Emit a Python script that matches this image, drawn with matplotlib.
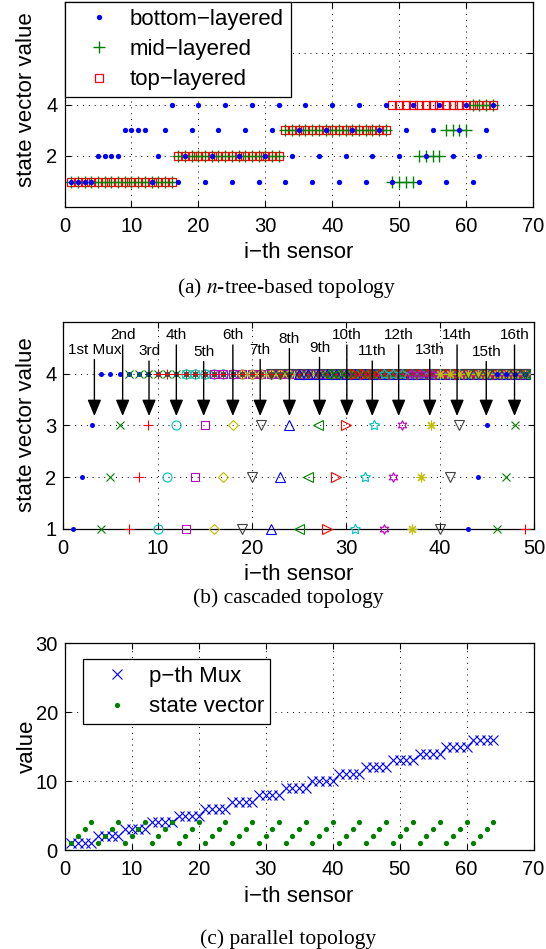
import matplotlib
matplotlib.use('Agg')
import matplotlib.pyplot as plt
from matplotlib.patches import ArrowStyle

plt.rcParams['font.family'] = ['Liberation Sans', 'DejaVu Sans']
plt.rcParams['mathtext.fontset'] = 'stix'

W, H = 546, 949

# ---------------- data ----------------
# (a) n-tree-based topology
sensors_a = list(range(1, 65))
bottom_layered = [1, 1, 1, 1, 2, 2, 2, 2, 3, 3, 3, 3,
                  1, 2, 3, 4, 1, 2, 3, 4, 1, 2, 3, 4, 1, 2, 3, 4,
                  1, 2, 3, 4, 1, 2, 3, 4, 1, 2, 3, 4, 1, 2, 3, 4,
                  1, 2, 3, 4, 1, 2, 3, 4, 1, 2, 3, 4, 1, 2, 3, 4, 1, 2, 3, 4]
mid_layered = ([1] * 16 + [2] * 16 + [3] * 16 +
               [1, 1, 1, 1, 2, 2, 2, 2, 3, 3, 3, 3, 4, 4, 4, 4])
top_layered = [1] * 16 + [2] * 16 + [3] * 16 + [4] * 16

# (b) cascaded topology
cascade_sensor_count = 49
mux_first_sensor = [1, 4, 7, 10, 13, 16, 19, 22, 25, 28, 31, 34, 37, 40, 43, 46, 49]
mux_own_states = [1, 2, 3]
mux_passed_state = 4
mux_labels = ['1st Mux', '2nd', '3rd', '4th', '5th', '6th', '7th', '8th',
              '9th', '10th', '11th', '12th', '13th', '14th', '15th', '16th']
mux_arrow_x = [3.3, 6.3, 9.1, 12.0, 14.9, 18.0, 20.9, 24.0,
               27.2, 30.1, 32.8, 35.6, 38.9, 41.8, 44.9, 47.9]
mux_label_y = [4.46, 4.74, 4.43, 4.74, 4.42, 4.74, 4.46, 4.67,
               4.50, 4.74, 4.43, 4.74, 4.46, 4.74, 4.42, 4.74]
mux_arrow_tip_y = 3.18

# (c) parallel topology
sensors_c = list(range(1, 65))
p_th_mux = [1, 1, 1, 1, 2, 2, 2, 2, 3, 3, 3, 3, 4, 4, 4, 4,
            5, 5, 5, 5, 6, 6, 6, 6, 7, 7, 7, 7, 8, 8, 8, 8,
            9, 9, 9, 9, 10, 10, 10, 10, 11, 11, 11, 11, 12, 12, 12, 12,
            13, 13, 13, 13, 14, 14, 14, 14, 15, 15, 15, 15, 16, 16, 16, 16]
state_vector_c = [1, 2, 3, 4] * 16

# ---------------- styles ----------------
BLUE = '#0000ff'
GREEN = '#008000'
RED = '#ff0000'
CYAN = '#00bfbf'
MAG = '#bf00bf'
YEL = '#bfbf00'
GRAY = '#404040'

# (marker, colour, size, filled)
mux_styles = [
    ('o', BLUE, 3.6, True), ('x', GREEN, 6, False), ('+', RED, 7, False),
    ('o', CYAN, 6.5, False), ('s', MAG, 6, False), ('D', YEL, 5.5, False),
    ('v', GRAY, 6.5, False), ('^', BLUE, 6.5, False), ('<', GREEN, 6.5, False),
    ('>', RED, 6.5, False), ((5, 1, 0), CYAN, 7.5, False), ((6, 1, 0), MAG, 7, False),
    ((8, 2, 0), YEL, 7, False), ('v', GRAY, 6.5, False), ('o', BLUE, 3.6, True),
    ('x', GREEN, 6, False), ('+', RED, 7, False),
]

TICK_FS = 14.5
LABEL_FS = 16
CAP_FS = 15.5
SERIF = ['Liberation Serif', 'DejaVu Serif']


def fx(px):
    return px / W


def fy(py):
    return 1 - py / H


def make_axes(left, right, top, bottom):
    return fig.add_axes([fx(left), fy(bottom), (right - left) / W, (bottom - top) / H])


def style_axes(ax):
    ax.grid(True, color='k', linestyle=(0, (1, 5)), linewidth=0.7)
    ax.set_axisbelow(True)
    ax.tick_params(direction='in', top=True, right=True, length=4, width=0.8,
                   labelsize=TICK_FS)
    ax.tick_params(axis='x', pad=7)
    ax.tick_params(axis='y', pad=5)
    for s in ax.spines.values():
        s.set_linewidth(0.9)


def boxed_legend(ax, handles, labels, anchor):
    leg = ax.legend(handles, labels, loc='upper left', bbox_to_anchor=anchor,
                    borderaxespad=0, fontsize=LABEL_FS, fancybox=False, framealpha=1,
                    edgecolor='k', borderpad=0.3, labelspacing=0.42, handlelength=2.5,
                    handletextpad=0.15, numpoints=1)
    leg.get_frame().set_linewidth(0.9)
    return leg


fig = plt.figure(figsize=(W / 100, H / 100), dpi=100)

# ---------------- (a) ----------------
ax1 = make_axes(64.5, 533, 2, 207.3)
style_axes(ax1)
h_top, = ax1.plot(sensors_a, top_layered, ls='none', marker='s', ms=6, mfc='none',
                  mec=RED, mew=0.9)
h_mid, = ax1.plot(sensors_a, mid_layered, ls='none', marker='+', ms=8, mec=GREEN,
                  mew=1.0)
h_bot, = ax1.plot(sensors_a, bottom_layered, ls='none', marker='o', ms=3.8, mfc=BLUE,
                  mec='none')
ax1.set_xlim(0, 70)
ax1.set_ylim(0, 8)
ax1.set_xticks(range(0, 71, 10))
ax1.set_yticks([2, 4, 6])
ax1.set_yticklabels(['2', '4', ''])
boxed_legend(ax1, [h_bot, h_mid, h_top],
             ['bottom\u2212layered', 'mid\u2212layered', 'top\u2212layered'], (0, 1))
fig.text(fx(299), fy(252), 'i\u2212th sensor', ha='center', va='center', fontsize=LABEL_FS)
fig.text(fx(27), fy(100), 'state vector value', rotation=90, ha='center', va='center',
         fontsize=LABEL_FS)
fig.text(fx(287), fy(288), '(a) $\\mathit{n}$-tree-based topology', ha='center',
         va='center', fontsize=CAP_FS, family=SERIF)

# ---------------- (b) ----------------
ax2 = make_axes(63.3, 534.3, 321.7, 529)
style_axes(ax2)
for k, first in enumerate(mux_first_sensor):
    xs, ys = [], []
    for j, st in enumerate(mux_own_states):
        s = first + j
        if s <= cascade_sensor_count:
            xs.append(s)
            ys.append(st)
    for s in range(first + len(mux_own_states), cascade_sensor_count + 1):
        xs.append(s)
        ys.append(mux_passed_state)
    m, c, ms, filled = mux_styles[k]
    ax2.plot(xs, ys, ls='none', marker=m, ms=ms, mfc=c if filled else 'none',
             mec='none' if filled else c, mew=0.8, clip_on=False, zorder=3)
ax2.set_xlim(0, 50)
ax2.set_ylim(1, 5)
ax2.set_xticks(range(0, 51, 10))
ax2.set_yticks([1, 2, 3, 4])
arrow_style = ArrowStyle('-|>', head_length=1.0, head_width=0.42)
for lab, xa, ly in zip(mux_labels, mux_arrow_x, mux_label_y):
    ax2.annotate(lab, xy=(xa, mux_arrow_tip_y), xytext=(xa, ly), ha='center', va='center',
                 fontsize=11, zorder=5,
                 arrowprops=dict(arrowstyle=arrow_style, color='k', lw=1.0,
                                 mutation_scale=10, shrinkA=0, shrinkB=0))
fig.text(fx(299), fy(574), 'i\u2212th sensor', ha='center', va='center', fontsize=LABEL_FS)
fig.text(fx(27), fy(425), 'state vector value', rotation=90, ha='center', va='center',
         fontsize=LABEL_FS)
fig.text(fx(288), fy(598), '(b) cascaded topology', ha='center', va='center',
         fontsize=CAP_FS, family=SERIF)

# ---------------- (c) ----------------
ax3 = make_axes(64.7, 533.5, 643.3, 850)
style_axes(ax3)
hp, = ax3.plot(sensors_c, p_th_mux, ls='none', color=BLUE, marker='x', ms=7, mew=0.8)
hs, = ax3.plot(sensors_c, state_vector_c, ls='none', marker='o', ms=3.8, mfc=GREEN,
               mec='none')
ax3.set_xlim(0, 70)
ax3.set_ylim(0, 30)
ax3.set_xticks(range(0, 71, 10))
ax3.set_yticks([0, 10, 20, 30])
boxed_legend(ax3, [hp, hs], ['p\u2212th Mux', 'state vector'],
             ((83 - 64.7) / 468.8, 1 - 16 / 206.7))
fig.text(fx(299), fy(896), 'i\u2212th sensor', ha='center', va='center', fontsize=LABEL_FS)
fig.text(fx(27), fy(746), 'value', rotation=90, ha='center', va='center',
         fontsize=LABEL_FS)
fig.text(fx(288), fy(939), '(c) parallel topology', ha='center', va='center',
         fontsize=CAP_FS, family=SERIF)

fig.savefig('out.png', dpi=100)
